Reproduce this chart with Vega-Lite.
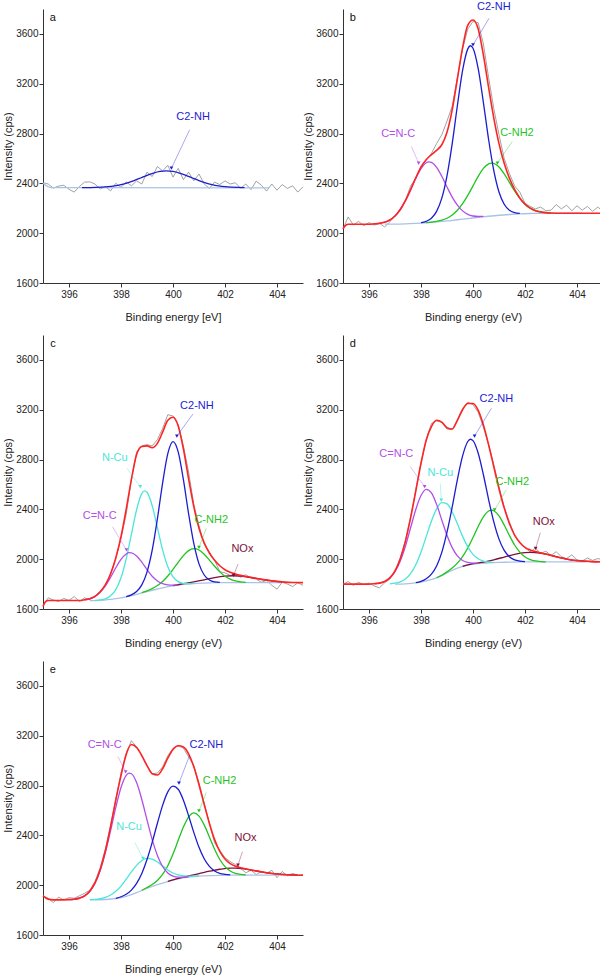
{
"$schema": "https://vega.github.io/schema/vega-lite/v6.json",
"padding": {"left": 2, "top": 1, "right": 0, "bottom": 12},
"config": {"view": {"stroke": null}, "font": "Liberation Sans", "text": {"font": "Liberation Sans"},
  "axis": {"grid": false, "labelFontSize": 10, "titleFontSize": 11, "titleFontWeight": "normal", "domainColor": "#333", "tickColor": "#333", "labelColor": "#222", "titleColor": "#222", "labelFont": "Liberation Sans", "titleFont": "Liberation Sans", "format": "d"}},
"datasets": {
"raw": [
{"p":"a","x":395.0,"y":2405},{"p":"a","x":395.2,"y":2395},{"p":"a","x":395.4,"y":2362},{"p":"a","x":395.6,"y":2378},{"p":"a","x":395.8,"y":2385},{"p":"a","x":396.0,"y":2352},{"p":"a","x":396.2,"y":2330},{"p":"a","x":396.4,"y":2375},{"p":"a","x":396.6,"y":2410},{"p":"a","x":396.8,"y":2412},{"p":"a","x":397.0,"y":2395},{"p":"a","x":397.2,"y":2355},{"p":"a","x":397.4,"y":2372},{"p":"a","x":397.6,"y":2340},{"p":"a","x":397.8,"y":2400},{"p":"a","x":398.0,"y":2368},{"p":"a","x":398.2,"y":2412},{"p":"a","x":398.4,"y":2380},{"p":"a","x":398.6,"y":2420},{"p":"a","x":398.8,"y":2395},{"p":"a","x":399.0,"y":2490},{"p":"a","x":399.2,"y":2455},{"p":"a","x":399.4,"y":2535},{"p":"a","x":399.6,"y":2500},{"p":"a","x":399.8,"y":2545},{"p":"a","x":400.0,"y":2450},{"p":"a","x":400.2,"y":2520},{"p":"a","x":400.4,"y":2430},{"p":"a","x":400.6,"y":2490},{"p":"a","x":400.8,"y":2420},{"p":"a","x":401.0,"y":2475},{"p":"a","x":401.2,"y":2395},{"p":"a","x":401.4,"y":2360},{"p":"a","x":401.6,"y":2410},{"p":"a","x":401.8,"y":2390},{"p":"a","x":402.0,"y":2420},{"p":"a","x":402.2,"y":2395},{"p":"a","x":402.4,"y":2405},{"p":"a","x":402.6,"y":2360},{"p":"a","x":402.8,"y":2395},{"p":"a","x":403.0,"y":2350},{"p":"a","x":403.2,"y":2418},{"p":"a","x":403.4,"y":2385},{"p":"a","x":403.6,"y":2338},{"p":"a","x":403.8,"y":2395},{"p":"a","x":404.0,"y":2345},{"p":"a","x":404.2,"y":2390},{"p":"a","x":404.4,"y":2360},{"p":"a","x":404.6,"y":2380},{"p":"a","x":404.8,"y":2330},{"p":"a","x":405.0,"y":2372},
{"p":"b","x":395.0,"y":2035},{"p":"b","x":395.2,"y":2130},{"p":"b","x":395.4,"y":2065},{"p":"b","x":395.6,"y":2095},{"p":"b","x":395.8,"y":2060},{"p":"b","x":396.0,"y":2085},{"p":"b","x":396.2,"y":2065},{"p":"b","x":396.4,"y":2080},{"p":"b","x":396.6,"y":2050},{"p":"b","x":396.8,"y":2090},{"p":"b","x":397.0,"y":2140},{"p":"b","x":397.2,"y":2180},{"p":"b","x":397.4,"y":2260},{"p":"b","x":397.6,"y":2380},{"p":"b","x":397.8,"y":2440},{"p":"b","x":398.0,"y":2540},{"p":"b","x":398.2,"y":2590},{"p":"b","x":398.4,"y":2640},{"p":"b","x":398.6,"y":2720},{"p":"b","x":398.8,"y":2790},{"p":"b","x":399.0,"y":2900},{"p":"b","x":399.2,"y":3020},{"p":"b","x":399.4,"y":3250},{"p":"b","x":399.6,"y":3480},{"p":"b","x":399.8,"y":3640},{"p":"b","x":400.0,"y":3700},{"p":"b","x":400.2,"y":3690},{"p":"b","x":400.4,"y":3520},{"p":"b","x":400.6,"y":3250},{"p":"b","x":400.8,"y":3000},{"p":"b","x":401.0,"y":2790},{"p":"b","x":401.2,"y":2600},{"p":"b","x":401.4,"y":2480},{"p":"b","x":401.6,"y":2380},{"p":"b","x":401.8,"y":2330},{"p":"b","x":402.0,"y":2240},{"p":"b","x":402.2,"y":2215},{"p":"b","x":402.4,"y":2195},{"p":"b","x":402.6,"y":2210},{"p":"b","x":402.8,"y":2180},{"p":"b","x":403.0,"y":2185},{"p":"b","x":403.2,"y":2230},{"p":"b","x":403.4,"y":2195},{"p":"b","x":403.6,"y":2225},{"p":"b","x":403.8,"y":2180},{"p":"b","x":404.0,"y":2220},{"p":"b","x":404.2,"y":2185},{"p":"b","x":404.4,"y":2215},{"p":"b","x":404.6,"y":2175},{"p":"b","x":404.8,"y":2210},{"p":"b","x":405.0,"y":2175},
{"p":"c","x":395.0,"y":1630},{"p":"c","x":395.2,"y":1690},{"p":"c","x":395.4,"y":1672},{"p":"c","x":395.6,"y":1660},{"p":"c","x":395.8,"y":1685},{"p":"c","x":396.0,"y":1668},{"p":"c","x":396.2,"y":1700},{"p":"c","x":396.4,"y":1660},{"p":"c","x":396.6,"y":1690},{"p":"c","x":396.8,"y":1675},{"p":"c","x":397.0,"y":1700},{"p":"c","x":397.2,"y":1740},{"p":"c","x":397.4,"y":1790},{"p":"c","x":397.6,"y":1880},{"p":"c","x":397.8,"y":2010},{"p":"c","x":398.0,"y":2170},{"p":"c","x":398.2,"y":2360},{"p":"c","x":398.4,"y":2640},{"p":"c","x":398.6,"y":2860},{"p":"c","x":398.8,"y":2910},{"p":"c","x":399.0,"y":2920},{"p":"c","x":399.2,"y":2910},{"p":"c","x":399.4,"y":2960},{"p":"c","x":399.6,"y":3050},{"p":"c","x":399.8,"y":3160},{"p":"c","x":400.0,"y":3150},{"p":"c","x":400.2,"y":3080},{"p":"c","x":400.4,"y":2910},{"p":"c","x":400.6,"y":2700},{"p":"c","x":400.8,"y":2440},{"p":"c","x":401.0,"y":2270},{"p":"c","x":401.2,"y":2120},{"p":"c","x":401.4,"y":2060},{"p":"c","x":401.6,"y":1990},{"p":"c","x":401.8,"y":1900},{"p":"c","x":402.0,"y":1890},{"p":"c","x":402.2,"y":1870},{"p":"c","x":402.4,"y":1880},{"p":"c","x":402.6,"y":1855},{"p":"c","x":402.8,"y":1875},{"p":"c","x":403.0,"y":1850},{"p":"c","x":403.2,"y":1840},{"p":"c","x":403.4,"y":1815},{"p":"c","x":403.6,"y":1830},{"p":"c","x":403.8,"y":1790},{"p":"c","x":404.0,"y":1760},{"p":"c","x":404.2,"y":1815},{"p":"c","x":404.4,"y":1800},{"p":"c","x":404.6,"y":1780},{"p":"c","x":404.8,"y":1810},{"p":"c","x":405.0,"y":1790},
{"p":"d","x":395.0,"y":1800},{"p":"d","x":395.2,"y":1820},{"p":"d","x":395.4,"y":1790},{"p":"d","x":395.6,"y":1815},{"p":"d","x":395.8,"y":1795},{"p":"d","x":396.0,"y":1808},{"p":"d","x":396.2,"y":1785},{"p":"d","x":396.4,"y":1770},{"p":"d","x":396.6,"y":1810},{"p":"d","x":396.8,"y":1840},{"p":"d","x":397.0,"y":1900},{"p":"d","x":397.2,"y":2010},{"p":"d","x":397.4,"y":2150},{"p":"d","x":397.6,"y":2340},{"p":"d","x":397.8,"y":2560},{"p":"d","x":398.0,"y":2770},{"p":"d","x":398.2,"y":2960},{"p":"d","x":398.4,"y":3090},{"p":"d","x":398.6,"y":3110},{"p":"d","x":398.8,"y":3100},{"p":"d","x":399.0,"y":3045},{"p":"d","x":399.2,"y":3040},{"p":"d","x":399.4,"y":3120},{"p":"d","x":399.6,"y":3210},{"p":"d","x":399.8,"y":3260},{"p":"d","x":400.0,"y":3240},{"p":"d","x":400.2,"y":3180},{"p":"d","x":400.4,"y":3060},{"p":"d","x":400.6,"y":2920},{"p":"d","x":400.8,"y":2760},{"p":"d","x":401.0,"y":2580},{"p":"d","x":401.2,"y":2420},{"p":"d","x":401.4,"y":2300},{"p":"d","x":401.6,"y":2190},{"p":"d","x":401.8,"y":2130},{"p":"d","x":402.0,"y":2090},{"p":"d","x":402.2,"y":2060},{"p":"d","x":402.4,"y":2090},{"p":"d","x":402.6,"y":2045},{"p":"d","x":402.8,"y":2065},{"p":"d","x":403.0,"y":2030},{"p":"d","x":403.2,"y":2060},{"p":"d","x":403.4,"y":2020},{"p":"d","x":403.6,"y":2005},{"p":"d","x":403.8,"y":2035},{"p":"d","x":404.0,"y":1995},{"p":"d","x":404.2,"y":1985},{"p":"d","x":404.4,"y":2010},{"p":"d","x":404.6,"y":1990},{"p":"d","x":404.8,"y":2005},{"p":"d","x":405.0,"y":1995},
{"p":"e","x":395.0,"y":1915},{"p":"e","x":395.2,"y":1895},{"p":"e","x":395.4,"y":1860},{"p":"e","x":395.6,"y":1905},{"p":"e","x":395.8,"y":1880},{"p":"e","x":396.0,"y":1900},{"p":"e","x":396.2,"y":1895},{"p":"e","x":396.4,"y":1915},{"p":"e","x":396.6,"y":1935},{"p":"e","x":396.8,"y":1960},{"p":"e","x":397.0,"y":2030},{"p":"e","x":397.2,"y":2140},{"p":"e","x":397.4,"y":2290},{"p":"e","x":397.6,"y":2480},{"p":"e","x":397.8,"y":2690},{"p":"e","x":398.0,"y":2900},{"p":"e","x":398.2,"y":3060},{"p":"e","x":398.4,"y":3160},{"p":"e","x":398.6,"y":3110},{"p":"e","x":398.8,"y":3040},{"p":"e","x":399.0,"y":2960},{"p":"e","x":399.2,"y":2895},{"p":"e","x":399.4,"y":2900},{"p":"e","x":399.6,"y":2950},{"p":"e","x":399.8,"y":3040},{"p":"e","x":400.0,"y":3100},{"p":"e","x":400.2,"y":3120},{"p":"e","x":400.4,"y":3100},{"p":"e","x":400.6,"y":3030},{"p":"e","x":400.8,"y":2960},{"p":"e","x":401.0,"y":2820},{"p":"e","x":401.2,"y":2660},{"p":"e","x":401.4,"y":2500},{"p":"e","x":401.6,"y":2340},{"p":"e","x":401.8,"y":2280},{"p":"e","x":402.0,"y":2220},{"p":"e","x":402.2,"y":2190},{"p":"e","x":402.4,"y":2165},{"p":"e","x":402.6,"y":2135},{"p":"e","x":402.8,"y":2100},{"p":"e","x":403.0,"y":2120},{"p":"e","x":403.2,"y":2085},{"p":"e","x":403.4,"y":2110},{"p":"e","x":403.6,"y":2095},{"p":"e","x":403.8,"y":2120},{"p":"e","x":404.0,"y":2060},{"p":"e","x":404.2,"y":2110},{"p":"e","x":404.4,"y":2075},{"p":"e","x":404.6,"y":2095},{"p":"e","x":404.8,"y":2080},{"p":"e","x":405.0,"y":2085}
],
"fit": [
{"p":"a","s":"bg","x":395.0,"y":2400},{"p":"a","s":"bg","x":395.3,"y":2366},{"p":"a","s":"bg","x":396.5,"y":2365},{"p":"a","s":"bg","x":403.7,"y":2364},
{"p":"a","s":"c2nh","x":396.5,"y":2365},{"p":"a","s":"c2nh","x":396.75,"y":2366},{"p":"a","s":"c2nh","x":397.0,"y":2367},{"p":"a","s":"c2nh","x":397.25,"y":2369},{"p":"a","s":"c2nh","x":397.5,"y":2373},{"p":"a","s":"c2nh","x":397.75,"y":2380},{"p":"a","s":"c2nh","x":398.0,"y":2390},{"p":"a","s":"c2nh","x":398.25,"y":2404},{"p":"a","s":"c2nh","x":398.5,"y":2422},{"p":"a","s":"c2nh","x":398.75,"y":2443},{"p":"a","s":"c2nh","x":399.0,"y":2465},{"p":"a","s":"c2nh","x":399.25,"y":2483},{"p":"a","s":"c2nh","x":399.5,"y":2496},{"p":"a","s":"c2nh","x":399.75,"y":2501},{"p":"a","s":"c2nh","x":400.0,"y":2496},{"p":"a","s":"c2nh","x":400.25,"y":2483},{"p":"a","s":"c2nh","x":400.5,"y":2465},{"p":"a","s":"c2nh","x":400.75,"y":2443},{"p":"a","s":"c2nh","x":401.0,"y":2422},{"p":"a","s":"c2nh","x":401.25,"y":2404},{"p":"a","s":"c2nh","x":401.5,"y":2390},{"p":"a","s":"c2nh","x":401.75,"y":2380},{"p":"a","s":"c2nh","x":402.0,"y":2373},{"p":"a","s":"c2nh","x":402.25,"y":2369},{"p":"a","s":"c2nh","x":402.5,"y":2367},{"p":"a","s":"c2nh","x":402.75,"y":2366},
{"p":"b","s":"bg","x":396.6,"y":2072},{"p":"b","s":"bg","x":397.0,"y":2072},{"p":"b","s":"bg","x":397.4,"y":2074},{"p":"b","s":"bg","x":397.8,"y":2078},{"p":"b","s":"bg","x":398.2,"y":2083},{"p":"b","s":"bg","x":398.6,"y":2090},{"p":"b","s":"bg","x":399.0,"y":2098},{"p":"b","s":"bg","x":399.4,"y":2108},{"p":"b","s":"bg","x":399.8,"y":2117},{"p":"b","s":"bg","x":400.2,"y":2127},{"p":"b","s":"bg","x":400.6,"y":2136},{"p":"b","s":"bg","x":401.0,"y":2144},{"p":"b","s":"bg","x":401.4,"y":2150},{"p":"b","s":"bg","x":401.8,"y":2155},{"p":"b","s":"bg","x":402.2,"y":2158},{"p":"b","s":"bg","x":402.6,"y":2160},{"p":"b","s":"bg","x":403.4,"y":2160},{"p":"b","s":"bg","x":404.2,"y":2160},
{"p":"b","s":"nh2","x":398.2,"y":2084},{"p":"b","s":"nh2","x":398.4,"y":2088},{"p":"b","s":"nh2","x":398.6,"y":2095},{"p":"b","s":"nh2","x":398.8,"y":2105},{"p":"b","s":"nh2","x":399.0,"y":2120},{"p":"b","s":"nh2","x":399.2,"y":2146},{"p":"b","s":"nh2","x":399.4,"y":2184},{"p":"b","s":"nh2","x":399.6,"y":2237},{"p":"b","s":"nh2","x":399.8,"y":2303},{"p":"b","s":"nh2","x":400.0,"y":2380},{"p":"b","s":"nh2","x":400.2,"y":2456},{"p":"b","s":"nh2","x":400.4,"y":2520},{"p":"b","s":"nh2","x":400.6,"y":2557},{"p":"b","s":"nh2","x":400.7,"y":2563},{"p":"b","s":"nh2","x":400.8,"y":2561},{"p":"b","s":"nh2","x":401.0,"y":2532},{"p":"b","s":"nh2","x":401.2,"y":2476},{"p":"b","s":"nh2","x":401.4,"y":2408},{"p":"b","s":"nh2","x":401.6,"y":2339},{"p":"b","s":"nh2","x":401.8,"y":2279},{"p":"b","s":"nh2","x":402.0,"y":2233},{"p":"b","s":"nh2","x":402.2,"y":2201},{"p":"b","s":"nh2","x":402.4,"y":2181},{"p":"b","s":"nh2","x":402.6,"y":2171},{"p":"b","s":"nh2","x":402.8,"y":2165},{"p":"b","s":"nh2","x":403.0,"y":2162},
{"p":"b","s":"cnc","x":396.2,"y":2075},{"p":"b","s":"cnc","x":396.4,"y":2079},{"p":"b","s":"cnc","x":396.6,"y":2088},{"p":"b","s":"cnc","x":396.8,"y":2106},{"p":"b","s":"cnc","x":397.0,"y":2138},{"p":"b","s":"cnc","x":397.2,"y":2190},{"p":"b","s":"cnc","x":397.4,"y":2261},{"p":"b","s":"cnc","x":397.6,"y":2349},{"p":"b","s":"cnc","x":397.8,"y":2441},{"p":"b","s":"cnc","x":398.0,"y":2519},{"p":"b","s":"cnc","x":398.2,"y":2565},{"p":"b","s":"cnc","x":398.3,"y":2572},{"p":"b","s":"cnc","x":398.4,"y":2568},{"p":"b","s":"cnc","x":398.6,"y":2529},{"p":"b","s":"cnc","x":398.8,"y":2457},{"p":"b","s":"cnc","x":399.0,"y":2371},{"p":"b","s":"cnc","x":399.2,"y":2290},{"p":"b","s":"cnc","x":399.4,"y":2225},{"p":"b","s":"cnc","x":399.6,"y":2179},{"p":"b","s":"cnc","x":399.8,"y":2151},{"p":"b","s":"cnc","x":400.0,"y":2138},{"p":"b","s":"cnc","x":400.2,"y":2134},{"p":"b","s":"cnc","x":400.4,"y":2135},
{"p":"b","s":"c2nh","x":398.0,"y":2084},{"p":"b","s":"c2nh","x":398.2,"y":2095},{"p":"b","s":"c2nh","x":398.4,"y":2120},{"p":"b","s":"c2nh","x":398.6,"y":2175},{"p":"b","s":"c2nh","x":398.8,"y":2281},{"p":"b","s":"c2nh","x":399.0,"y":2461},{"p":"b","s":"c2nh","x":399.2,"y":2719},{"p":"b","s":"c2nh","x":399.4,"y":3025},{"p":"b","s":"c2nh","x":399.6,"y":3307},{"p":"b","s":"c2nh","x":399.8,"y":3480},{"p":"b","s":"c2nh","x":399.9,"y":3505},{"p":"b","s":"c2nh","x":400.0,"y":3485},{"p":"b","s":"c2nh","x":400.2,"y":3321},{"p":"b","s":"c2nh","x":400.4,"y":3049},{"p":"b","s":"c2nh","x":400.6,"y":2752},{"p":"b","s":"c2nh","x":400.8,"y":2503},{"p":"b","s":"c2nh","x":401.0,"y":2331},{"p":"b","s":"c2nh","x":401.2,"y":2232},{"p":"b","s":"c2nh","x":401.4,"y":2184},{"p":"b","s":"c2nh","x":401.6,"y":2165},{"p":"b","s":"c2nh","x":401.8,"y":2159},
{"p":"b","s":"env","x":395.0,"y":2035},{"p":"b","s":"env","x":395.1,"y":2062},{"p":"b","s":"env","x":395.2,"y":2072},{"p":"b","s":"env","x":396.0,"y":2072},{"p":"b","s":"env","x":396.2,"y":2075},{"p":"b","s":"env","x":396.4,"y":2079},{"p":"b","s":"env","x":396.6,"y":2088},{"p":"b","s":"env","x":396.8,"y":2106},{"p":"b","s":"env","x":397.0,"y":2138},{"p":"b","s":"env","x":397.2,"y":2190},{"p":"b","s":"env","x":397.4,"y":2261},{"p":"b","s":"env","x":397.6,"y":2349},{"p":"b","s":"env","x":397.8,"y":2445},{"p":"b","s":"env","x":398.0,"y":2530},{"p":"b","s":"env","x":398.2,"y":2590},{"p":"b","s":"env","x":398.4,"y":2630},{"p":"b","s":"env","x":398.6,"y":2665},{"p":"b","s":"env","x":398.8,"y":2710},{"p":"b","s":"env","x":399.0,"y":2810},{"p":"b","s":"env","x":399.2,"y":2990},{"p":"b","s":"env","x":399.4,"y":3240},{"p":"b","s":"env","x":399.6,"y":3490},{"p":"b","s":"env","x":399.8,"y":3670},{"p":"b","s":"env","x":400.0,"y":3712},{"p":"b","s":"env","x":400.2,"y":3640},{"p":"b","s":"env","x":400.4,"y":3430},{"p":"b","s":"env","x":400.6,"y":3170},{"p":"b","s":"env","x":400.8,"y":2924},{"p":"b","s":"env","x":401.0,"y":2719},{"p":"b","s":"env","x":401.2,"y":2561},{"p":"b","s":"env","x":401.4,"y":2442},{"p":"b","s":"env","x":401.6,"y":2351},{"p":"b","s":"env","x":401.8,"y":2283},{"p":"b","s":"env","x":402.0,"y":2233},{"p":"b","s":"env","x":402.2,"y":2201},{"p":"b","s":"env","x":402.4,"y":2181},{"p":"b","s":"env","x":402.6,"y":2171},{"p":"b","s":"env","x":402.8,"y":2165},{"p":"b","s":"env","x":403.0,"y":2162},{"p":"b","s":"env","x":403.4,"y":2160},{"p":"b","s":"env","x":405.0,"y":2160},
{"p":"c","s":"bg","x":396.8,"y":1668},{"p":"c","s":"bg","x":397.2,"y":1670},{"p":"c","s":"bg","x":397.6,"y":1678},{"p":"c","s":"bg","x":398.0,"y":1690},{"p":"c","s":"bg","x":398.4,"y":1707},{"p":"c","s":"bg","x":398.8,"y":1729},{"p":"c","s":"bg","x":399.2,"y":1750},{"p":"c","s":"bg","x":399.6,"y":1770},{"p":"c","s":"bg","x":400.0,"y":1786},{"p":"c","s":"bg","x":400.4,"y":1797},{"p":"c","s":"bg","x":400.8,"y":1804},{"p":"c","s":"bg","x":401.2,"y":1808},{"p":"c","s":"bg","x":401.6,"y":1811},{"p":"c","s":"bg","x":402.0,"y":1812},{"p":"c","s":"bg","x":403.0,"y":1812},{"p":"c","s":"bg","x":404.2,"y":1812},
{"p":"c","s":"nox","x":400.0,"y":1788},{"p":"c","s":"nox","x":400.4,"y":1803},{"p":"c","s":"nox","x":400.8,"y":1818},{"p":"c","s":"nox","x":401.2,"y":1834},{"p":"c","s":"nox","x":401.6,"y":1852},{"p":"c","s":"nox","x":402.0,"y":1864},{"p":"c","s":"nox","x":402.3,"y":1867},{"p":"c","s":"nox","x":402.6,"y":1864},{"p":"c","s":"nox","x":403.0,"y":1853},{"p":"c","s":"nox","x":403.4,"y":1838},{"p":"c","s":"nox","x":403.8,"y":1826},{"p":"c","s":"nox","x":404.2,"y":1818},
{"p":"c","s":"nh2","x":398.8,"y":1731},{"p":"c","s":"nh2","x":399.0,"y":1746},{"p":"c","s":"nh2","x":399.2,"y":1764},{"p":"c","s":"nh2","x":399.4,"y":1788},{"p":"c","s":"nh2","x":399.6,"y":1821},{"p":"c","s":"nh2","x":399.8,"y":1865},{"p":"c","s":"nh2","x":400.0,"y":1918},{"p":"c","s":"nh2","x":400.2,"y":1975},{"p":"c","s":"nh2","x":400.4,"y":2029},{"p":"c","s":"nh2","x":400.6,"y":2069},{"p":"c","s":"nh2","x":400.8,"y":2085},{"p":"c","s":"nh2","x":401.0,"y":2074},{"p":"c","s":"nh2","x":401.2,"y":2040},{"p":"c","s":"nh2","x":401.4,"y":1993},{"p":"c","s":"nh2","x":401.6,"y":1943},{"p":"c","s":"nh2","x":401.8,"y":1898},{"p":"c","s":"nh2","x":402.0,"y":1863},{"p":"c","s":"nh2","x":402.2,"y":1840},{"p":"c","s":"nh2","x":402.4,"y":1826},{"p":"c","s":"nh2","x":402.6,"y":1818},{"p":"c","s":"nh2","x":402.8,"y":1814},
{"p":"c","s":"ncu","x":397.0,"y":1669},{"p":"c","s":"ncu","x":397.2,"y":1673},{"p":"c","s":"ncu","x":397.4,"y":1682},{"p":"c","s":"ncu","x":397.6,"y":1706},{"p":"c","s":"ncu","x":397.8,"y":1756},{"p":"c","s":"ncu","x":398.0,"y":1851},{"p":"c","s":"ncu","x":398.2,"y":2003},{"p":"c","s":"ncu","x":398.4,"y":2200},{"p":"c","s":"ncu","x":398.6,"y":2397},{"p":"c","s":"ncu","x":398.8,"y":2526},{"p":"c","s":"ncu","x":398.9,"y":2548},{"p":"c","s":"ncu","x":399.0,"y":2537},{"p":"c","s":"ncu","x":399.2,"y":2429},{"p":"c","s":"ncu","x":399.4,"y":2253},{"p":"c","s":"ncu","x":399.6,"y":2075},{"p":"c","s":"ncu","x":399.8,"y":1940},{"p":"c","s":"ncu","x":400.0,"y":1858},{"p":"c","s":"ncu","x":400.2,"y":1820},{"p":"c","s":"ncu","x":400.4,"y":1806},{"p":"c","s":"ncu","x":400.6,"y":1804},{"p":"c","s":"ncu","x":400.8,"y":1805},
{"p":"c","s":"cnc","x":396.6,"y":1674},{"p":"c","s":"cnc","x":396.8,"y":1683},{"p":"c","s":"cnc","x":397.0,"y":1701},{"p":"c","s":"cnc","x":397.2,"y":1735},{"p":"c","s":"cnc","x":397.4,"y":1786},{"p":"c","s":"cnc","x":397.6,"y":1855},{"p":"c","s":"cnc","x":397.8,"y":1931},{"p":"c","s":"cnc","x":398.0,"y":1998},{"p":"c","s":"cnc","x":398.2,"y":2042},{"p":"c","s":"cnc","x":398.3,"y":2052},{"p":"c","s":"cnc","x":398.4,"y":2051},{"p":"c","s":"cnc","x":398.6,"y":2026},{"p":"c","s":"cnc","x":398.8,"y":1976},{"p":"c","s":"cnc","x":399.0,"y":1917},{"p":"c","s":"cnc","x":399.2,"y":1863},{"p":"c","s":"cnc","x":399.4,"y":1825},{"p":"c","s":"cnc","x":399.6,"y":1803},{"p":"c","s":"cnc","x":399.8,"y":1794},{"p":"c","s":"cnc","x":400.0,"y":1792},{"p":"c","s":"cnc","x":400.2,"y":1794},
{"p":"c","s":"c2nh","x":398.2,"y":1700},{"p":"c","s":"c2nh","x":398.4,"y":1714},{"p":"c","s":"c2nh","x":398.6,"y":1741},{"p":"c","s":"c2nh","x":398.8,"y":1794},{"p":"c","s":"c2nh","x":399.0,"y":1896},{"p":"c","s":"c2nh","x":399.2,"y":2072},{"p":"c","s":"c2nh","x":399.4,"y":2324},{"p":"c","s":"c2nh","x":399.6,"y":2611},{"p":"c","s":"c2nh","x":399.8,"y":2848},{"p":"c","s":"c2nh","x":400.0,"y":2944},{"p":"c","s":"c2nh","x":400.2,"y":2861},{"p":"c","s":"c2nh","x":400.4,"y":2638},{"p":"c","s":"c2nh","x":400.6,"y":2365},{"p":"c","s":"c2nh","x":400.8,"y":2126},{"p":"c","s":"c2nh","x":401.0,"y":1962},{"p":"c","s":"c2nh","x":401.2,"y":1873},{"p":"c","s":"c2nh","x":401.4,"y":1833},{"p":"c","s":"c2nh","x":401.6,"y":1818},{"p":"c","s":"c2nh","x":401.8,"y":1814},
{"p":"c","s":"env","x":395.0,"y":1620},{"p":"c","s":"env","x":395.1,"y":1660},{"p":"c","s":"env","x":395.2,"y":1668},{"p":"c","s":"env","x":396.4,"y":1668},{"p":"c","s":"env","x":396.6,"y":1674},{"p":"c","s":"env","x":396.8,"y":1683},{"p":"c","s":"env","x":397.0,"y":1702},{"p":"c","s":"env","x":397.2,"y":1738},{"p":"c","s":"env","x":397.4,"y":1795},{"p":"c","s":"env","x":397.6,"y":1883},{"p":"c","s":"env","x":397.8,"y":2010},{"p":"c","s":"env","x":398.0,"y":2180},{"p":"c","s":"env","x":398.2,"y":2400},{"p":"c","s":"env","x":398.4,"y":2640},{"p":"c","s":"env","x":398.6,"y":2840},{"p":"c","s":"env","x":398.8,"y":2905},{"p":"c","s":"env","x":399.0,"y":2910},{"p":"c","s":"env","x":399.2,"y":2895},{"p":"c","s":"env","x":399.4,"y":2930},{"p":"c","s":"env","x":399.6,"y":3020},{"p":"c","s":"env","x":399.8,"y":3115},{"p":"c","s":"env","x":400.0,"y":3140},{"p":"c","s":"env","x":400.2,"y":3070},{"p":"c","s":"env","x":400.4,"y":2885},{"p":"c","s":"env","x":400.6,"y":2645},{"p":"c","s":"env","x":400.8,"y":2422},{"p":"c","s":"env","x":401.0,"y":2249},{"p":"c","s":"env","x":401.2,"y":2131},{"p":"c","s":"env","x":401.4,"y":2049},{"p":"c","s":"env","x":401.6,"y":1991},{"p":"c","s":"env","x":401.8,"y":1947},{"p":"c","s":"env","x":402.0,"y":1915},{"p":"c","s":"env","x":402.2,"y":1895},{"p":"c","s":"env","x":402.4,"y":1881},{"p":"c","s":"env","x":402.6,"y":1870},{"p":"c","s":"env","x":402.8,"y":1861},{"p":"c","s":"env","x":403.0,"y":1853},{"p":"c","s":"env","x":403.4,"y":1838},{"p":"c","s":"env","x":403.8,"y":1826},{"p":"c","s":"env","x":404.2,"y":1818},{"p":"c","s":"env","x":404.6,"y":1813},{"p":"c","s":"env","x":405.0,"y":1812},
{"p":"d","s":"bg","x":397.0,"y":1800},{"p":"d","s":"bg","x":397.4,"y":1802},{"p":"d","s":"bg","x":397.8,"y":1809},{"p":"d","s":"bg","x":398.2,"y":1825},{"p":"d","s":"bg","x":398.6,"y":1850},{"p":"d","s":"bg","x":399.0,"y":1890},{"p":"d","s":"bg","x":399.4,"y":1928},{"p":"d","s":"bg","x":399.8,"y":1953},{"p":"d","s":"bg","x":400.2,"y":1964},{"p":"d","s":"bg","x":400.6,"y":1970},{"p":"d","s":"bg","x":401.0,"y":1974},{"p":"d","s":"bg","x":401.4,"y":1976},{"p":"d","s":"bg","x":401.8,"y":1978},{"p":"d","s":"bg","x":403.0,"y":1978},{"p":"d","s":"bg","x":404.4,"y":1978},
{"p":"d","s":"nox","x":399.6,"y":1943},{"p":"d","s":"nox","x":400.0,"y":1964},{"p":"d","s":"nox","x":400.4,"y":1977},{"p":"d","s":"nox","x":400.8,"y":1995},{"p":"d","s":"nox","x":401.2,"y":2017},{"p":"d","s":"nox","x":401.6,"y":2039},{"p":"d","s":"nox","x":402.0,"y":2053},{"p":"d","s":"nox","x":402.2,"y":2055},{"p":"d","s":"nox","x":402.4,"y":2053},{"p":"d","s":"nox","x":402.8,"y":2040},{"p":"d","s":"nox","x":403.2,"y":2020},{"p":"d","s":"nox","x":403.6,"y":2001},{"p":"d","s":"nox","x":404.0,"y":1988},{"p":"d","s":"nox","x":404.4,"y":1982},{"p":"d","s":"nox","x":404.8,"y":1979},
{"p":"d","s":"nh2","x":398.6,"y":1851},{"p":"d","s":"nh2","x":398.8,"y":1871},{"p":"d","s":"nh2","x":399.0,"y":1898},{"p":"d","s":"nh2","x":399.2,"y":1929},{"p":"d","s":"nh2","x":399.4,"y":1968},{"p":"d","s":"nh2","x":399.6,"y":2021},{"p":"d","s":"nh2","x":399.8,"y":2090},{"p":"d","s":"nh2","x":400.0,"y":2174},{"p":"d","s":"nh2","x":400.2,"y":2263},{"p":"d","s":"nh2","x":400.4,"y":2340},{"p":"d","s":"nh2","x":400.6,"y":2387},{"p":"d","s":"nh2","x":400.7,"y":2394},{"p":"d","s":"nh2","x":400.8,"y":2389},{"p":"d","s":"nh2","x":401.0,"y":2347},{"p":"d","s":"nh2","x":401.2,"y":2274},{"p":"d","s":"nh2","x":401.4,"y":2190},{"p":"d","s":"nh2","x":401.6,"y":2114},{"p":"d","s":"nh2","x":401.8,"y":2057},{"p":"d","s":"nh2","x":402.0,"y":2018},{"p":"d","s":"nh2","x":402.2,"y":1997},{"p":"d","s":"nh2","x":402.4,"y":1986},{"p":"d","s":"nh2","x":402.6,"y":1981},{"p":"d","s":"nh2","x":402.8,"y":1979},
{"p":"d","s":"ncu","x":396.8,"y":1802},{"p":"d","s":"ncu","x":397.0,"y":1807},{"p":"d","s":"ncu","x":397.2,"y":1818},{"p":"d","s":"ncu","x":397.4,"y":1841},{"p":"d","s":"ncu","x":397.6,"y":1884},{"p":"d","s":"ncu","x":397.8,"y":1955},{"p":"d","s":"ncu","x":398.0,"y":2056},{"p":"d","s":"ncu","x":398.2,"y":2181},{"p":"d","s":"ncu","x":398.4,"y":2305},{"p":"d","s":"ncu","x":398.6,"y":2404},{"p":"d","s":"ncu","x":398.8,"y":2454},{"p":"d","s":"ncu","x":399.0,"y":2444},{"p":"d","s":"ncu","x":399.2,"y":2379},{"p":"d","s":"ncu","x":399.4,"y":2284},{"p":"d","s":"ncu","x":399.6,"y":2183},{"p":"d","s":"ncu","x":399.8,"y":2099},{"p":"d","s":"ncu","x":400.0,"y":2039},{"p":"d","s":"ncu","x":400.2,"y":2003},{"p":"d","s":"ncu","x":400.4,"y":1984},{"p":"d","s":"ncu","x":400.6,"y":1977},{"p":"d","s":"ncu","x":400.8,"y":1974},
{"p":"d","s":"cnc","x":396.2,"y":1803},{"p":"d","s":"cnc","x":396.4,"y":1808},{"p":"d","s":"cnc","x":396.6,"y":1821},{"p":"d","s":"cnc","x":396.8,"y":1848},{"p":"d","s":"cnc","x":397.0,"y":1899},{"p":"d","s":"cnc","x":397.2,"y":1984},{"p":"d","s":"cnc","x":397.4,"y":2104},{"p":"d","s":"cnc","x":397.6,"y":2252},{"p":"d","s":"cnc","x":397.8,"y":2399},{"p":"d","s":"cnc","x":398.0,"y":2511},{"p":"d","s":"cnc","x":398.2,"y":2561},{"p":"d","s":"cnc","x":398.4,"y":2532},{"p":"d","s":"cnc","x":398.6,"y":2440},{"p":"d","s":"cnc","x":398.8,"y":2315},{"p":"d","s":"cnc","x":399.0,"y":2192},{"p":"d","s":"cnc","x":399.2,"y":2093},{"p":"d","s":"cnc","x":399.4,"y":2027},{"p":"d","s":"cnc","x":399.6,"y":1990},{"p":"d","s":"cnc","x":399.8,"y":1974},{"p":"d","s":"cnc","x":400.0,"y":1968},{"p":"d","s":"cnc","x":400.2,"y":1967},
{"p":"d","s":"c2nh","x":397.8,"y":1811},{"p":"d","s":"c2nh","x":398.0,"y":1822},{"p":"d","s":"c2nh","x":398.2,"y":1843},{"p":"d","s":"c2nh","x":398.4,"y":1880},{"p":"d","s":"c2nh","x":398.6,"y":1946},{"p":"d","s":"c2nh","x":398.8,"y":2055},{"p":"d","s":"c2nh","x":399.0,"y":2217},{"p":"d","s":"c2nh","x":399.2,"y":2419},{"p":"d","s":"c2nh","x":399.4,"y":2639},{"p":"d","s":"c2nh","x":399.6,"y":2829},{"p":"d","s":"c2nh","x":399.8,"y":2945},{"p":"d","s":"c2nh","x":399.9,"y":2963},{"p":"d","s":"c2nh","x":400.0,"y":2952},{"p":"d","s":"c2nh","x":400.2,"y":2851},{"p":"d","s":"c2nh","x":400.4,"y":2678},{"p":"d","s":"c2nh","x":400.6,"y":2479},{"p":"d","s":"c2nh","x":400.8,"y":2299},{"p":"d","s":"c2nh","x":401.0,"y":2161},{"p":"d","s":"c2nh","x":401.2,"y":2071},{"p":"d","s":"c2nh","x":401.4,"y":2020},{"p":"d","s":"c2nh","x":401.6,"y":1995},{"p":"d","s":"c2nh","x":401.8,"y":1985},{"p":"d","s":"c2nh","x":402.0,"y":1980},
{"p":"d","s":"env","x":395.0,"y":1800},{"p":"d","s":"env","x":396.0,"y":1800},{"p":"d","s":"env","x":396.2,"y":1803},{"p":"d","s":"env","x":396.4,"y":1808},{"p":"d","s":"env","x":396.6,"y":1821},{"p":"d","s":"env","x":396.8,"y":1850},{"p":"d","s":"env","x":397.0,"y":1906},{"p":"d","s":"env","x":397.2,"y":2001},{"p":"d","s":"env","x":397.4,"y":2143},{"p":"d","s":"env","x":397.6,"y":2331},{"p":"d","s":"env","x":397.8,"y":2547},{"p":"d","s":"env","x":398.0,"y":2770},{"p":"d","s":"env","x":398.2,"y":2955},{"p":"d","s":"env","x":398.4,"y":3065},{"p":"d","s":"env","x":398.6,"y":3115},{"p":"d","s":"env","x":398.8,"y":3100},{"p":"d","s":"env","x":399.0,"y":3055},{"p":"d","s":"env","x":399.2,"y":3045},{"p":"d","s":"env","x":399.4,"y":3115},{"p":"d","s":"env","x":399.6,"y":3200},{"p":"d","s":"env","x":399.8,"y":3250},{"p":"d","s":"env","x":400.0,"y":3250},{"p":"d","s":"env","x":400.2,"y":3195},{"p":"d","s":"env","x":400.4,"y":3078},{"p":"d","s":"env","x":400.6,"y":2919},{"p":"d","s":"env","x":400.8,"y":2741},{"p":"d","s":"env","x":401.0,"y":2566},{"p":"d","s":"env","x":401.2,"y":2412},{"p":"d","s":"env","x":401.4,"y":2286},{"p":"d","s":"env","x":401.6,"y":2194},{"p":"d","s":"env","x":401.8,"y":2134},{"p":"d","s":"env","x":402.0,"y":2095},{"p":"d","s":"env","x":402.2,"y":2074},{"p":"d","s":"env","x":402.4,"y":2061},{"p":"d","s":"env","x":402.6,"y":2051},{"p":"d","s":"env","x":402.8,"y":2041},{"p":"d","s":"env","x":403.0,"y":2030},{"p":"d","s":"env","x":403.4,"y":2010},{"p":"d","s":"env","x":403.8,"y":1994},{"p":"d","s":"env","x":404.2,"y":1985},{"p":"d","s":"env","x":404.6,"y":1980},{"p":"d","s":"env","x":405.0,"y":1978},
{"p":"e","s":"bg","x":397.0,"y":1882},{"p":"e","s":"bg","x":397.4,"y":1885},{"p":"e","s":"bg","x":397.8,"y":1893},{"p":"e","s":"bg","x":398.2,"y":1911},{"p":"e","s":"bg","x":398.6,"y":1940},{"p":"e","s":"bg","x":399.0,"y":1975},{"p":"e","s":"bg","x":399.4,"y":2004},{"p":"e","s":"bg","x":399.8,"y":2029},{"p":"e","s":"bg","x":400.2,"y":2050},{"p":"e","s":"bg","x":400.6,"y":2065},{"p":"e","s":"bg","x":401.0,"y":2073},{"p":"e","s":"bg","x":401.4,"y":2077},{"p":"e","s":"bg","x":401.8,"y":2079},{"p":"e","s":"bg","x":402.2,"y":2080},{"p":"e","s":"bg","x":403.4,"y":2080},{"p":"e","s":"bg","x":404.6,"y":2080},
{"p":"e","s":"nox","x":399.8,"y":2030},{"p":"e","s":"nox","x":400.2,"y":2054},{"p":"e","s":"nox","x":400.6,"y":2075},{"p":"e","s":"nox","x":401.0,"y":2093},{"p":"e","s":"nox","x":401.4,"y":2112},{"p":"e","s":"nox","x":401.8,"y":2128},{"p":"e","s":"nox","x":402.2,"y":2137},{"p":"e","s":"nox","x":402.4,"y":2137},{"p":"e","s":"nox","x":402.8,"y":2129},{"p":"e","s":"nox","x":403.2,"y":2115},{"p":"e","s":"nox","x":403.6,"y":2100},{"p":"e","s":"nox","x":404.0,"y":2090},{"p":"e","s":"nox","x":404.4,"y":2084},{"p":"e","s":"nox","x":404.8,"y":2081},
{"p":"e","s":"nh2","x":398.8,"y":1959},{"p":"e","s":"nh2","x":399.0,"y":1981},{"p":"e","s":"nh2","x":399.2,"y":2005},{"p":"e","s":"nh2","x":399.4,"y":2038},{"p":"e","s":"nh2","x":399.6,"y":2086},{"p":"e","s":"nh2","x":399.8,"y":2156},{"p":"e","s":"nh2","x":400.0,"y":2250},{"p":"e","s":"nh2","x":400.2,"y":2360},{"p":"e","s":"nh2","x":400.4,"y":2467},{"p":"e","s":"nh2","x":400.6,"y":2547},{"p":"e","s":"nh2","x":400.8,"y":2580},{"p":"e","s":"nh2","x":401.0,"y":2555},{"p":"e","s":"nh2","x":401.2,"y":2484},{"p":"e","s":"nh2","x":401.4,"y":2387},{"p":"e","s":"nh2","x":401.6,"y":2288},{"p":"e","s":"nh2","x":401.8,"y":2206},{"p":"e","s":"nh2","x":402.0,"y":2149},{"p":"e","s":"nh2","x":402.2,"y":2114},{"p":"e","s":"nh2","x":402.4,"y":2095},{"p":"e","s":"nh2","x":402.6,"y":2086},{"p":"e","s":"nh2","x":402.8,"y":2082},
{"p":"e","s":"ncu","x":396.8,"y":1883},{"p":"e","s":"ncu","x":397.0,"y":1885},{"p":"e","s":"ncu","x":397.2,"y":1891},{"p":"e","s":"ncu","x":397.4,"y":1902},{"p":"e","s":"ncu","x":397.6,"y":1921},{"p":"e","s":"ncu","x":397.8,"y":1951},{"p":"e","s":"ncu","x":398.0,"y":1993},{"p":"e","s":"ncu","x":398.2,"y":2048},{"p":"e","s":"ncu","x":398.4,"y":2106},{"p":"e","s":"ncu","x":398.6,"y":2159},{"p":"e","s":"ncu","x":398.8,"y":2198},{"p":"e","s":"ncu","x":398.9,"y":2210},{"p":"e","s":"ncu","x":399.0,"y":2216},{"p":"e","s":"ncu","x":399.2,"y":2209},{"p":"e","s":"ncu","x":399.4,"y":2186},{"p":"e","s":"ncu","x":399.6,"y":2154},{"p":"e","s":"ncu","x":399.8,"y":2122},{"p":"e","s":"ncu","x":400.0,"y":2098},{"p":"e","s":"ncu","x":400.2,"y":2083},{"p":"e","s":"ncu","x":400.4,"y":2075},{"p":"e","s":"ncu","x":400.6,"y":2073},{"p":"e","s":"ncu","x":400.8,"y":2073},{"p":"e","s":"ncu","x":401.0,"y":2074},
{"p":"e","s":"cnc","x":396.0,"y":1884},{"p":"e","s":"cnc","x":396.2,"y":1887},{"p":"e","s":"cnc","x":396.4,"y":1896},{"p":"e","s":"cnc","x":396.6,"y":1914},{"p":"e","s":"cnc","x":396.8,"y":1951},{"p":"e","s":"cnc","x":397.0,"y":2015},{"p":"e","s":"cnc","x":397.2,"y":2118},{"p":"e","s":"cnc","x":397.4,"y":2261},{"p":"e","s":"cnc","x":397.6,"y":2438},{"p":"e","s":"cnc","x":397.8,"y":2624},{"p":"e","s":"cnc","x":398.0,"y":2784},{"p":"e","s":"cnc","x":398.2,"y":2882},{"p":"e","s":"cnc","x":398.3,"y":2900},{"p":"e","s":"cnc","x":398.4,"y":2895},{"p":"e","s":"cnc","x":398.6,"y":2824},{"p":"e","s":"cnc","x":398.8,"y":2688},{"p":"e","s":"cnc","x":399.0,"y":2525},{"p":"e","s":"cnc","x":399.2,"y":2366},{"p":"e","s":"cnc","x":399.4,"y":2239},{"p":"e","s":"cnc","x":399.6,"y":2150},{"p":"e","s":"cnc","x":399.8,"y":2098},{"p":"e","s":"cnc","x":400.0,"y":2072},{"p":"e","s":"cnc","x":400.2,"y":2064},{"p":"e","s":"cnc","x":400.4,"y":2063},{"p":"e","s":"cnc","x":400.6,"y":2067},
{"p":"e","s":"c2nh","x":397.8,"y":1895},{"p":"e","s":"c2nh","x":398.0,"y":1907},{"p":"e","s":"c2nh","x":398.2,"y":1927},{"p":"e","s":"c2nh","x":398.4,"y":1960},{"p":"e","s":"c2nh","x":398.6,"y":2014},{"p":"e","s":"c2nh","x":398.8,"y":2094},{"p":"e","s":"c2nh","x":399.0,"y":2206},{"p":"e","s":"c2nh","x":399.2,"y":2344},{"p":"e","s":"c2nh","x":399.4,"y":2497},{"p":"e","s":"c2nh","x":399.6,"y":2641},{"p":"e","s":"c2nh","x":399.8,"y":2749},{"p":"e","s":"c2nh","x":400.0,"y":2795},{"p":"e","s":"c2nh","x":400.2,"y":2770},{"p":"e","s":"c2nh","x":400.4,"y":2682},{"p":"e","s":"c2nh","x":400.6,"y":2558},{"p":"e","s":"c2nh","x":400.8,"y":2424},{"p":"e","s":"c2nh","x":401.0,"y":2304},{"p":"e","s":"c2nh","x":401.2,"y":2212},{"p":"e","s":"c2nh","x":401.4,"y":2151},{"p":"e","s":"c2nh","x":401.6,"y":2114},{"p":"e","s":"c2nh","x":401.8,"y":2095},{"p":"e","s":"c2nh","x":402.0,"y":2087},{"p":"e","s":"c2nh","x":402.2,"y":2082},
{"p":"e","s":"env","x":395.0,"y":1915},{"p":"e","s":"env","x":395.2,"y":1888},{"p":"e","s":"env","x":395.4,"y":1882},{"p":"e","s":"env","x":396.0,"y":1884},{"p":"e","s":"env","x":396.2,"y":1887},{"p":"e","s":"env","x":396.4,"y":1896},{"p":"e","s":"env","x":396.6,"y":1914},{"p":"e","s":"env","x":396.8,"y":1952},{"p":"e","s":"env","x":397.0,"y":2018},{"p":"e","s":"env","x":397.2,"y":2126},{"p":"e","s":"env","x":397.4,"y":2278},{"p":"e","s":"env","x":397.6,"y":2471},{"p":"e","s":"env","x":397.8,"y":2684},{"p":"e","s":"env","x":398.0,"y":2880},{"p":"e","s":"env","x":398.2,"y":3050},{"p":"e","s":"env","x":398.4,"y":3130},{"p":"e","s":"env","x":398.6,"y":3105},{"p":"e","s":"env","x":398.8,"y":3040},{"p":"e","s":"env","x":399.0,"y":2960},{"p":"e","s":"env","x":399.2,"y":2895},{"p":"e","s":"env","x":399.4,"y":2885},{"p":"e","s":"env","x":399.6,"y":2935},{"p":"e","s":"env","x":399.8,"y":3020},{"p":"e","s":"env","x":400.0,"y":3090},{"p":"e","s":"env","x":400.2,"y":3120},{"p":"e","s":"env","x":400.4,"y":3110},{"p":"e","s":"env","x":400.6,"y":3055},{"p":"e","s":"env","x":400.8,"y":2951},{"p":"e","s":"env","x":401.0,"y":2807},{"p":"e","s":"env","x":401.2,"y":2648},{"p":"e","s":"env","x":401.4,"y":2496},{"p":"e","s":"env","x":401.6,"y":2366},{"p":"e","s":"env","x":401.8,"y":2271},{"p":"e","s":"env","x":402.0,"y":2210},{"p":"e","s":"env","x":402.2,"y":2173},{"p":"e","s":"env","x":402.4,"y":2152},{"p":"e","s":"env","x":402.6,"y":2140},{"p":"e","s":"env","x":402.8,"y":2131},{"p":"e","s":"env","x":403.0,"y":2122},{"p":"e","s":"env","x":403.4,"y":2107},{"p":"e","s":"env","x":403.8,"y":2094},{"p":"e","s":"env","x":404.2,"y":2086},{"p":"e","s":"env","x":404.6,"y":2082},{"p":"e","s":"env","x":405.0,"y":2080}
],
"ann": [
{"p":"a","s":"c2nh","t":"C2-NH","tx":400.77,"ty":2932,"x1":400.64,"y1":2830,"x2":399.94,"y2":2522},
{"p":"b","s":"c2nh","t":"C2-NH","tx":400.8,"ty":3815,"x1":400.62,"y1":3726,"x2":400.0,"y2":3512},
{"p":"b","s":"cnc","t":"C=N-C","tx":397.12,"ty":2795,"x1":397.63,"y1":2696,"x2":397.91,"y2":2563},
{"p":"b","s":"nh2","t":"C-NH2","tx":401.69,"ty":2803,"x1":401.51,"y1":2736,"x2":400.94,"y2":2563},
{"p":"c","s":"c2nh","t":"C2-NH","tx":400.92,"ty":3233,"x1":400.77,"y1":3166,"x2":400.15,"y2":2989},
{"p":"c","s":"ncu","t":"N-Cu","tx":397.76,"ty":2815,"x1":398.23,"y1":2730,"x2":398.74,"y2":2582},
{"p":"c","s":"cnc","t":"C=N-C","tx":397.18,"ty":2350,"x1":397.67,"y1":2261,"x2":398.21,"y2":2074},
{"p":"c","s":"nh2","t":"C-NH2","tx":401.47,"ty":2315,"x1":401.28,"y1":2248,"x2":401.0,"y2":2095},
{"p":"c","s":"nox","t":"NOx","tx":402.67,"ty":2079,"x1":402.5,"y1":1961,"x2":402.33,"y2":1870},
{"p":"d","s":"c2nh","t":"C2-NH","tx":400.9,"ty":3284,"x1":400.71,"y1":3212,"x2":400.06,"y2":2989},
{"p":"d","s":"cnc","t":"C=N-C","tx":397.05,"ty":2845,"x1":397.59,"y1":2743,"x2":398.14,"y2":2582},
{"p":"d","s":"ncu","t":"N-Cu","tx":398.74,"ty":2695,"x1":398.74,"y1":2609,"x2":398.78,"y2":2475},
{"p":"d","s":"nh2","t":"C-NH2","tx":401.51,"ty":2623,"x1":401.28,"y1":2556,"x2":400.83,"y2":2395},
{"p":"d","s":"nox","t":"NOx","tx":402.72,"ty":2296,"x1":402.59,"y1":2213,"x2":402.41,"y2":2087},
{"p":"e","s":"cnc","t":"C=N-C","tx":397.37,"ty":3127,"x1":397.88,"y1":3033,"x2":398.18,"y2":2910},
{"p":"e","s":"c2nh","t":"C2-NH","tx":401.28,"ty":3124,"x1":400.64,"y1":3044,"x2":400.23,"y2":2819},
{"p":"e","s":"nh2","t":"C-NH2","tx":401.79,"ty":2838,"x1":401.28,"y1":2745,"x2":401.0,"y2":2597},
{"p":"e","s":"ncu","t":"N-Cu","tx":398.31,"ty":2464,"x1":398.53,"y1":2343,"x2":398.85,"y2":2215},
{"p":"e","s":"nox","t":"NOx","tx":402.79,"ty":2375,"x1":402.67,"y1":2269,"x2":402.5,"y2":2162}
],
"tag": [
{"p":"a","t":"a","x":395.38,"y":3730},{"p":"b","t":"b","x":395.38,"y":3730},{"p":"c","t":"c","x":395.38,"y":3730},{"p":"d","t":"d","x":395.38,"y":3730},{"p":"e","t":"e","x":395.38,"y":3730}
]
},
"columns": 2,
"bounds": "flush",
"spacing": {"row": 52, "column": 40},
"concat": [
{"width": 260, "height": 274, "layer": [
 {"data": {"name": "raw"}, "transform": [{"filter": "datum.p == 'a'"}], "mark": {"type": "line", "color": "#8a8a8a", "strokeWidth": 0.8},
  "encoding": {"x": {"field": "x", "type": "quantitative", "scale": {"domain": [395, 405], "nice": false}, "axis": {"title": "Binding energy [eV]", "values": [396,397,398,399,400,401,402,403,404], "labelExpr": "datum.value % 2 == 0 ? datum.label : ''", "tickSize": {"condition": {"test": "datum.value % 2 == 0", "value": 4}, "value": 2.5}, "labelPadding": 2, "titlePadding": 12}},
   "y": {"field": "y", "type": "quantitative", "scale": {"domain": [1600, 3800], "nice": false}, "axis": {"title": "Intensity (cps)", "values": [1600,1800,2000,2200,2400,2600,2800,3000,3200,3400,3600,3800], "labelExpr": "datum.value % 400 == 0 ? datum.label : ''", "tickSize": {"condition": {"test": "datum.value % 400 == 0", "value": 4}, "value": 2.5}, "labelPadding": 1, "titlePadding": 2}}}},
 {"data": {"name": "fit"}, "transform": [{"filter": "datum.p == 'a' && datum.s != 'env'"}], "mark": {"type": "line", "strokeWidth": 1.3, "interpolate": "monotone"},
  "encoding": {"x": {"field": "x", "type": "quantitative"}, "y": {"field": "y", "type": "quantitative"}, "detail": {"field": "s"}, "color": {"field": "s", "type": "nominal", "legend": null, "scale": {"domain": ["bg","env","c2nh","cnc","ncu","nh2","nox"], "range": ["#a9c3e6","#ff2424","#1c1cd0","#b24ee8","#4ae6d8","#1fc41f","#7d1038"]}}}},
 {"data": {"name": "ann"}, "transform": [{"filter": "datum.p == 'a'"}], "mark": {"type": "rule", "strokeWidth": 0.7, "opacity": 0.55},
  "encoding": {"x": {"field": "x1", "type": "quantitative"}, "y": {"field": "y1", "type": "quantitative"}, "x2": {"field": "x2"}, "y2": {"field": "y2"}, "color": {"field": "s", "type": "nominal", "legend": null}}},
 {"data": {"name": "ann"}, "transform": [{"filter": "datum.p == 'a'"}], "mark": {"type": "point", "shape": "triangle-down", "filled": true, "size": 14, "opacity": 1},
  "encoding": {"x": {"field": "x2", "type": "quantitative"}, "y": {"field": "y2", "type": "quantitative"}, "color": {"field": "s", "type": "nominal", "legend": null}}},
 {"data": {"name": "ann"}, "transform": [{"filter": "datum.p == 'a'"}], "mark": {"type": "text", "fontSize": 11, "baseline": "middle"},
  "encoding": {"x": {"field": "tx", "type": "quantitative"}, "y": {"field": "ty", "type": "quantitative"}, "text": {"field": "t"}, "color": {"field": "s", "type": "nominal", "legend": null}}},
 {"data": {"name": "tag"}, "transform": [{"filter": "datum.p == 'a'"}], "mark": {"type": "text", "fontSize": 11, "baseline": "middle", "color": "#111"},
  "encoding": {"x": {"field": "x", "type": "quantitative"}, "y": {"field": "y", "type": "quantitative"}, "text": {"field": "t"}}}
]},
{"width": 260, "height": 274, "layer": [
 {"data": {"name": "raw"}, "transform": [{"filter": "datum.p == 'b'"}], "mark": {"type": "line", "color": "#8a8a8a", "strokeWidth": 0.8},
  "encoding": {"x": {"field": "x", "type": "quantitative", "scale": {"domain": [395, 405], "nice": false}, "axis": {"title": "Binding energy (eV)", "values": [396,397,398,399,400,401,402,403,404], "labelExpr": "datum.value % 2 == 0 ? datum.label : ''", "tickSize": {"condition": {"test": "datum.value % 2 == 0", "value": 4}, "value": 2.5}, "labelPadding": 2, "titlePadding": 12}},
   "y": {"field": "y", "type": "quantitative", "scale": {"domain": [1600, 3800], "nice": false}, "axis": {"title": "Intensity (cps)", "values": [1600,1800,2000,2200,2400,2600,2800,3000,3200,3400,3600,3800], "labelExpr": "datum.value % 400 == 0 ? datum.label : ''", "tickSize": {"condition": {"test": "datum.value % 400 == 0", "value": 4}, "value": 2.5}, "labelPadding": 1, "titlePadding": 2}}}},
 {"data": {"name": "fit"}, "transform": [{"filter": "datum.p == 'b' && datum.s != 'env'"}], "mark": {"type": "line", "strokeWidth": 1.3, "interpolate": "monotone"},
  "encoding": {"x": {"field": "x", "type": "quantitative"}, "y": {"field": "y", "type": "quantitative"}, "detail": {"field": "s"}, "color": {"field": "s", "type": "nominal", "legend": null, "scale": {"domain": ["bg","env","c2nh","cnc","ncu","nh2","nox"], "range": ["#a9c3e6","#ff2424","#1c1cd0","#b24ee8","#4ae6d8","#1fc41f","#7d1038"]}}}},
 {"data": {"name": "fit"}, "transform": [{"filter": "datum.p == 'b' && datum.s == 'env'"}], "mark": {"type": "line", "color": "#ff2424", "strokeWidth": 1.6, "interpolate": "monotone"},
  "encoding": {"x": {"field": "x", "type": "quantitative"}, "y": {"field": "y", "type": "quantitative"}}},
 {"data": {"name": "ann"}, "transform": [{"filter": "datum.p == 'b'"}], "mark": {"type": "rule", "strokeWidth": 0.7, "opacity": 0.55},
  "encoding": {"x": {"field": "x1", "type": "quantitative"}, "y": {"field": "y1", "type": "quantitative"}, "x2": {"field": "x2"}, "y2": {"field": "y2"}, "color": {"field": "s", "type": "nominal", "legend": null}}},
 {"data": {"name": "ann"}, "transform": [{"filter": "datum.p == 'b'"}], "mark": {"type": "point", "shape": "triangle-down", "filled": true, "size": 14, "opacity": 1},
  "encoding": {"x": {"field": "x2", "type": "quantitative"}, "y": {"field": "y2", "type": "quantitative"}, "color": {"field": "s", "type": "nominal", "legend": null}}},
 {"data": {"name": "ann"}, "transform": [{"filter": "datum.p == 'b'"}], "mark": {"type": "text", "fontSize": 11, "baseline": "middle"},
  "encoding": {"x": {"field": "tx", "type": "quantitative"}, "y": {"field": "ty", "type": "quantitative"}, "text": {"field": "t"}, "color": {"field": "s", "type": "nominal", "legend": null}}},
 {"data": {"name": "tag"}, "transform": [{"filter": "datum.p == 'b'"}], "mark": {"type": "text", "fontSize": 11, "baseline": "middle", "color": "#111"},
  "encoding": {"x": {"field": "x", "type": "quantitative"}, "y": {"field": "y", "type": "quantitative"}, "text": {"field": "t"}}}
]},
{"width": 260, "height": 274, "layer": [
 {"data": {"name": "raw"}, "transform": [{"filter": "datum.p == 'c'"}], "mark": {"type": "line", "color": "#8a8a8a", "strokeWidth": 0.8},
  "encoding": {"x": {"field": "x", "type": "quantitative", "scale": {"domain": [395, 405], "nice": false}, "axis": {"title": "Binding energy (eV)", "values": [396,397,398,399,400,401,402,403,404], "labelExpr": "datum.value % 2 == 0 ? datum.label : ''", "tickSize": {"condition": {"test": "datum.value % 2 == 0", "value": 4}, "value": 2.5}, "labelPadding": 2, "titlePadding": 12}},
   "y": {"field": "y", "type": "quantitative", "scale": {"domain": [1600, 3800], "nice": false}, "axis": {"title": "Intensity (cps)", "values": [1600,1800,2000,2200,2400,2600,2800,3000,3200,3400,3600,3800], "labelExpr": "datum.value % 400 == 0 ? datum.label : ''", "tickSize": {"condition": {"test": "datum.value % 400 == 0", "value": 4}, "value": 2.5}, "labelPadding": 1, "titlePadding": 2}}}},
 {"data": {"name": "fit"}, "transform": [{"filter": "datum.p == 'c' && datum.s != 'env'"}], "mark": {"type": "line", "strokeWidth": 1.3, "interpolate": "monotone"},
  "encoding": {"x": {"field": "x", "type": "quantitative"}, "y": {"field": "y", "type": "quantitative"}, "detail": {"field": "s"}, "color": {"field": "s", "type": "nominal", "legend": null, "scale": {"domain": ["bg","env","c2nh","cnc","ncu","nh2","nox"], "range": ["#a9c3e6","#ff2424","#1c1cd0","#b24ee8","#4ae6d8","#1fc41f","#7d1038"]}}}},
 {"data": {"name": "fit"}, "transform": [{"filter": "datum.p == 'c' && datum.s == 'env'"}], "mark": {"type": "line", "color": "#ff2424", "strokeWidth": 1.6, "interpolate": "monotone"},
  "encoding": {"x": {"field": "x", "type": "quantitative"}, "y": {"field": "y", "type": "quantitative"}}},
 {"data": {"name": "ann"}, "transform": [{"filter": "datum.p == 'c'"}], "mark": {"type": "rule", "strokeWidth": 0.7, "opacity": 0.55},
  "encoding": {"x": {"field": "x1", "type": "quantitative"}, "y": {"field": "y1", "type": "quantitative"}, "x2": {"field": "x2"}, "y2": {"field": "y2"}, "color": {"field": "s", "type": "nominal", "legend": null}}},
 {"data": {"name": "ann"}, "transform": [{"filter": "datum.p == 'c'"}], "mark": {"type": "point", "shape": "triangle-down", "filled": true, "size": 14, "opacity": 1},
  "encoding": {"x": {"field": "x2", "type": "quantitative"}, "y": {"field": "y2", "type": "quantitative"}, "color": {"field": "s", "type": "nominal", "legend": null}}},
 {"data": {"name": "ann"}, "transform": [{"filter": "datum.p == 'c'"}], "mark": {"type": "text", "fontSize": 11, "baseline": "middle"},
  "encoding": {"x": {"field": "tx", "type": "quantitative"}, "y": {"field": "ty", "type": "quantitative"}, "text": {"field": "t"}, "color": {"field": "s", "type": "nominal", "legend": null}}},
 {"data": {"name": "tag"}, "transform": [{"filter": "datum.p == 'c'"}], "mark": {"type": "text", "fontSize": 11, "baseline": "middle", "color": "#111"},
  "encoding": {"x": {"field": "x", "type": "quantitative"}, "y": {"field": "y", "type": "quantitative"}, "text": {"field": "t"}}}
]},
{"width": 260, "height": 274, "layer": [
 {"data": {"name": "raw"}, "transform": [{"filter": "datum.p == 'd'"}], "mark": {"type": "line", "color": "#8a8a8a", "strokeWidth": 0.8},
  "encoding": {"x": {"field": "x", "type": "quantitative", "scale": {"domain": [395, 405], "nice": false}, "axis": {"title": "Binding energy (eV)", "values": [396,397,398,399,400,401,402,403,404], "labelExpr": "datum.value % 2 == 0 ? datum.label : ''", "tickSize": {"condition": {"test": "datum.value % 2 == 0", "value": 4}, "value": 2.5}, "labelPadding": 2, "titlePadding": 12}},
   "y": {"field": "y", "type": "quantitative", "scale": {"domain": [1600, 3800], "nice": false}, "axis": {"title": "Intensity (cps)", "values": [1600,1800,2000,2200,2400,2600,2800,3000,3200,3400,3600,3800], "labelExpr": "datum.value % 400 == 0 ? datum.label : ''", "tickSize": {"condition": {"test": "datum.value % 400 == 0", "value": 4}, "value": 2.5}, "labelPadding": 1, "titlePadding": 2}}}},
 {"data": {"name": "fit"}, "transform": [{"filter": "datum.p == 'd' && datum.s != 'env'"}], "mark": {"type": "line", "strokeWidth": 1.3, "interpolate": "monotone"},
  "encoding": {"x": {"field": "x", "type": "quantitative"}, "y": {"field": "y", "type": "quantitative"}, "detail": {"field": "s"}, "color": {"field": "s", "type": "nominal", "legend": null, "scale": {"domain": ["bg","env","c2nh","cnc","ncu","nh2","nox"], "range": ["#a9c3e6","#ff2424","#1c1cd0","#b24ee8","#4ae6d8","#1fc41f","#7d1038"]}}}},
 {"data": {"name": "fit"}, "transform": [{"filter": "datum.p == 'd' && datum.s == 'env'"}], "mark": {"type": "line", "color": "#ff2424", "strokeWidth": 1.6, "interpolate": "monotone"},
  "encoding": {"x": {"field": "x", "type": "quantitative"}, "y": {"field": "y", "type": "quantitative"}}},
 {"data": {"name": "ann"}, "transform": [{"filter": "datum.p == 'd'"}], "mark": {"type": "rule", "strokeWidth": 0.7, "opacity": 0.55},
  "encoding": {"x": {"field": "x1", "type": "quantitative"}, "y": {"field": "y1", "type": "quantitative"}, "x2": {"field": "x2"}, "y2": {"field": "y2"}, "color": {"field": "s", "type": "nominal", "legend": null}}},
 {"data": {"name": "ann"}, "transform": [{"filter": "datum.p == 'd'"}], "mark": {"type": "point", "shape": "triangle-down", "filled": true, "size": 14, "opacity": 1},
  "encoding": {"x": {"field": "x2", "type": "quantitative"}, "y": {"field": "y2", "type": "quantitative"}, "color": {"field": "s", "type": "nominal", "legend": null}}},
 {"data": {"name": "ann"}, "transform": [{"filter": "datum.p == 'd'"}], "mark": {"type": "text", "fontSize": 11, "baseline": "middle"},
  "encoding": {"x": {"field": "tx", "type": "quantitative"}, "y": {"field": "ty", "type": "quantitative"}, "text": {"field": "t"}, "color": {"field": "s", "type": "nominal", "legend": null}}},
 {"data": {"name": "tag"}, "transform": [{"filter": "datum.p == 'd'"}], "mark": {"type": "text", "fontSize": 11, "baseline": "middle", "color": "#111"},
  "encoding": {"x": {"field": "x", "type": "quantitative"}, "y": {"field": "y", "type": "quantitative"}, "text": {"field": "t"}}}
]},
{"width": 260, "height": 274, "layer": [
 {"data": {"name": "raw"}, "transform": [{"filter": "datum.p == 'e'"}], "mark": {"type": "line", "color": "#8a8a8a", "strokeWidth": 0.8},
  "encoding": {"x": {"field": "x", "type": "quantitative", "scale": {"domain": [395, 405], "nice": false}, "axis": {"title": "Binding energy (eV)", "values": [396,397,398,399,400,401,402,403,404], "labelExpr": "datum.value % 2 == 0 ? datum.label : ''", "tickSize": {"condition": {"test": "datum.value % 2 == 0", "value": 4}, "value": 2.5}, "labelPadding": 2, "titlePadding": 12}},
   "y": {"field": "y", "type": "quantitative", "scale": {"domain": [1600, 3800], "nice": false}, "axis": {"title": "Intensity (cps)", "values": [1600,1800,2000,2200,2400,2600,2800,3000,3200,3400,3600,3800], "labelExpr": "datum.value % 400 == 0 ? datum.label : ''", "tickSize": {"condition": {"test": "datum.value % 400 == 0", "value": 4}, "value": 2.5}, "labelPadding": 1, "titlePadding": 2}}}},
 {"data": {"name": "fit"}, "transform": [{"filter": "datum.p == 'e' && datum.s != 'env'"}], "mark": {"type": "line", "strokeWidth": 1.3, "interpolate": "monotone"},
  "encoding": {"x": {"field": "x", "type": "quantitative"}, "y": {"field": "y", "type": "quantitative"}, "detail": {"field": "s"}, "color": {"field": "s", "type": "nominal", "legend": null, "scale": {"domain": ["bg","env","c2nh","cnc","ncu","nh2","nox"], "range": ["#a9c3e6","#ff2424","#1c1cd0","#b24ee8","#4ae6d8","#1fc41f","#7d1038"]}}}},
 {"data": {"name": "fit"}, "transform": [{"filter": "datum.p == 'e' && datum.s == 'env'"}], "mark": {"type": "line", "color": "#ff2424", "strokeWidth": 1.6, "interpolate": "monotone"},
  "encoding": {"x": {"field": "x", "type": "quantitative"}, "y": {"field": "y", "type": "quantitative"}}},
 {"data": {"name": "ann"}, "transform": [{"filter": "datum.p == 'e'"}], "mark": {"type": "rule", "strokeWidth": 0.7, "opacity": 0.55},
  "encoding": {"x": {"field": "x1", "type": "quantitative"}, "y": {"field": "y1", "type": "quantitative"}, "x2": {"field": "x2"}, "y2": {"field": "y2"}, "color": {"field": "s", "type": "nominal", "legend": null}}},
 {"data": {"name": "ann"}, "transform": [{"filter": "datum.p == 'e'"}], "mark": {"type": "point", "shape": "triangle-down", "filled": true, "size": 14, "opacity": 1},
  "encoding": {"x": {"field": "x2", "type": "quantitative"}, "y": {"field": "y2", "type": "quantitative"}, "color": {"field": "s", "type": "nominal", "legend": null}}},
 {"data": {"name": "ann"}, "transform": [{"filter": "datum.p == 'e'"}], "mark": {"type": "text", "fontSize": 11, "baseline": "middle"},
  "encoding": {"x": {"field": "tx", "type": "quantitative"}, "y": {"field": "ty", "type": "quantitative"}, "text": {"field": "t"}, "color": {"field": "s", "type": "nominal", "legend": null}}},
 {"data": {"name": "tag"}, "transform": [{"filter": "datum.p == 'e'"}], "mark": {"type": "text", "fontSize": 11, "baseline": "middle", "color": "#111"},
  "encoding": {"x": {"field": "x", "type": "quantitative"}, "y": {"field": "y", "type": "quantitative"}, "text": {"field": "t"}}}
]}
]
}
